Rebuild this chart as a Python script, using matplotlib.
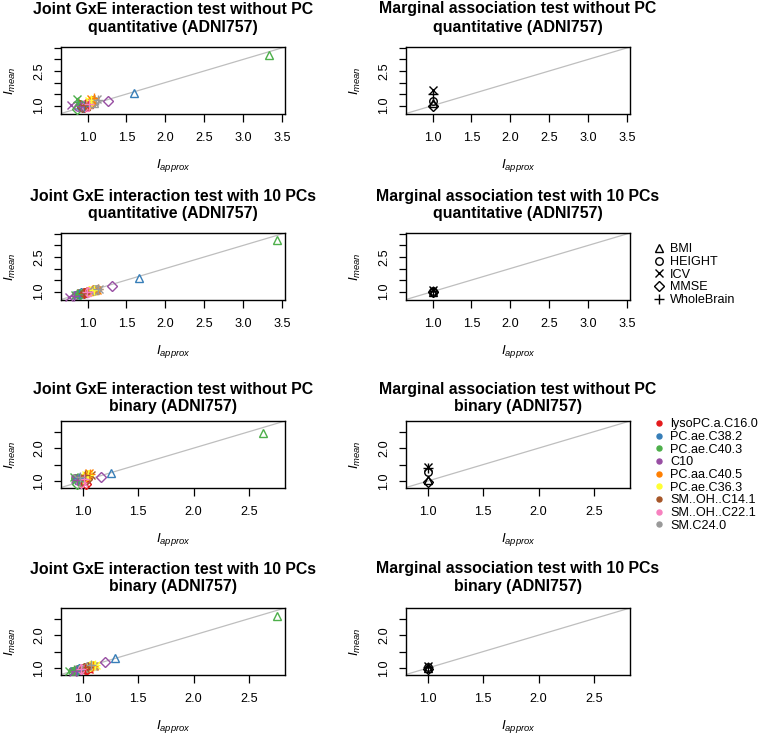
import matplotlib
matplotlib.use('Agg')
import matplotlib.pyplot as plt
from matplotlib.lines import Line2D
from matplotlib.transforms import ScaledTranslation

plt.rcParams['font.family'] = ['Liberation Sans', 'DejaVu Sans']
plt.rcParams['mathtext.fontset'] = 'custom'
plt.rcParams['mathtext.it'] = 'Liberation Sans:italic'
plt.rcParams['mathtext.rm'] = 'Liberation Sans'

# ---------------- data ----------------
phenotypes = ['BMI', 'HEIGHT', 'ICV', 'MMSE', 'WholeBrain']
phen_markers = ['^', 'o', 'x', 'D', '+']
metabolites = ['lysoPC.a.C16.0', 'PC.ae.C38.2', 'PC.ae.C40.3', 'C10', 'PC.aa.C40.5',
               'PC.ae.C36.3', 'SM..OH..C14.1', 'SM..OH..C22.1', 'SM.C24.0']
met_colors = ['#E41A1C', '#377EB8', '#4DAF4A', '#984EA3', '#FF7F00',
              '#FFFF33', '#A65628', '#F781BF', '#999999']

# rows: phenotypes, columns: metabolites
joint_noPC_quant_x = [[1.02, 1.59, 3.33, 0.95, 1.05, 1.00, 0.98, 0.97, 1.08],
                      [0.98, 0.92, 0.90, 0.88, 1.06, 1.03, 0.96, 1.00, 1.10],
                      [0.93, 0.90, 0.86, 0.79, 1.05, 1.02, 0.94, 0.99, 1.12],
                      [0.96, 0.94, 0.86, 1.26, 1.04, 1.01, 0.93, 0.97, 1.06],
                      [1.00, 0.95, 0.88, 0.92, 1.08, 1.04, 0.97, 1.02, 1.14]]
joint_noPC_quant_y = [[1.05, 1.56, 3.20, 0.98, 1.15, 1.10, 1.00, 0.95, 1.12],
                      [1.00, 0.95, 1.05, 0.92, 1.25, 1.20, 0.98, 1.02, 1.18],
                      [1.10, 1.02, 1.30, 1.03, 1.28, 1.22, 1.05, 1.08, 1.30],
                      [0.95, 0.92, 0.87, 1.22, 1.12, 1.08, 0.93, 0.97, 1.10],
                      [1.08, 1.00, 1.15, 1.00, 1.32, 1.26, 1.02, 1.05, 1.25]]

joint_10PC_quant_x = [[1.02, 1.655, 3.43, 0.95, 1.08, 1.03, 0.97, 0.99, 1.10],
                      [0.97, 0.90, 0.88, 0.85, 1.10, 1.05, 0.95, 1.00, 1.12],
                      [0.93, 0.87, 0.84, 0.765, 1.12, 1.06, 0.92, 0.98, 1.15],
                      [0.99, 0.92, 0.90, 1.31, 1.07, 1.02, 0.96, 1.01, 1.08],
                      [0.95, 0.89, 0.86, 0.82, 1.14, 1.08, 0.94, 0.99, 1.13]]
joint_10PC_quant_y = [[1.03, 1.61, 3.23, 0.94, 1.06, 1.02, 0.98, 1.00, 1.08],
                      [0.96, 0.90, 0.90, 0.86, 1.08, 1.04, 0.95, 0.99, 1.10],
                      [0.92, 0.87, 0.86, 0.78, 1.09, 1.04, 0.92, 0.97, 1.13],
                      [0.98, 0.92, 0.91, 1.26, 1.05, 1.01, 0.96, 1.00, 1.07],
                      [0.95, 0.89, 0.88, 0.83, 1.11, 1.06, 0.94, 0.98, 1.12]]

joint_noPC_bin_x = [[1.01, 1.26, 2.63, 0.97, 1.05, 1.04, 0.99, 1.00, 1.03],
                    [1.00, 0.95, 0.93, 0.94, 1.04, 1.06, 0.98, 1.01, 0.96],
                    [1.02, 0.94, 0.92, 0.93, 1.06, 1.03, 1.08, 1.00, 0.95],
                    [1.03, 0.96, 0.95, 1.17, 1.02, 1.00, 1.04, 0.99, 0.97],
                    [0.99, 0.97, 0.96, 0.95, 1.07, 1.05, 1.02, 1.01, 0.98]]
joint_noPC_bin_y = [[1.05, 1.25, 2.47, 1.03, 1.18, 1.15, 1.06, 1.02, 1.10],
                    [1.00, 1.05, 1.10, 1.08, 1.20, 1.22, 1.10, 1.00, 1.06],
                    [0.95, 1.05, 1.12, 1.06, 1.24, 1.18, 1.20, 0.96, 1.08],
                    [0.92, 1.02, 0.90, 1.13, 1.12, 1.10, 1.06, 0.94, 1.04],
                    [1.02, 1.10, 1.00, 1.04, 1.22, 1.20, 1.18, 1.05, 1.12]]

joint_10PC_bin_x = [[1.05, 1.29, 2.75, 0.96, 1.08, 1.06, 1.02, 1.00, 1.10],
                    [1.03, 0.94, 0.90, 0.93, 1.06, 1.09, 1.00, 0.98, 1.07],
                    [1.06, 0.92, 0.88, 0.91, 1.10, 1.12, 1.03, 0.97, 1.09],
                    [1.04, 0.97, 0.95, 1.205, 1.05, 1.07, 1.01, 0.99, 1.04],
                    [1.02, 0.95, 0.92, 0.94, 1.09, 1.11, 1.05, 0.99, 1.08]]
joint_10PC_bin_y = [[1.00, 1.32, 2.59, 0.95, 1.08, 1.07, 1.02, 1.00, 1.10],
                    [0.95, 0.93, 0.91, 0.90, 1.05, 1.08, 0.99, 0.97, 1.06],
                    [0.97, 0.91, 0.92, 0.89, 1.06, 1.10, 1.00, 0.96, 1.07],
                    [0.96, 0.96, 0.94, 1.17, 1.04, 1.06, 1.00, 0.98, 1.03],
                    [0.98, 0.94, 0.93, 0.92, 1.07, 1.09, 1.03, 0.98, 1.08]]

# marginal tests: one value per phenotype
marg_noPC_quant_x = [1.0, 1.0, 1.0, 1.0, 1.0]
marg_noPC_quant_y = [1.10, 1.22, 1.68, 0.98, 1.50]
marg_10PC_quant_x = [1.0, 1.0, 1.0, 1.0, 1.0]
marg_10PC_quant_y = [1.00, 1.03, 1.06, 0.97, 1.04]
marg_noPC_bin_x = [1.0, 1.0, 1.0, 1.0, 1.0]
marg_noPC_bin_y = [1.03, 1.27, 1.42, 0.97, 1.40]
marg_10PC_bin_x = [1.0, 1.0, 1.0, 1.0, 1.0]
marg_10PC_bin_y = [1.00, 1.02, 1.05, 0.97, 1.03]

joint_titles = [('Joint GxE interaction test without PC', 'quantitative (ADNI757)'),
                ('Joint GxE interaction test with 10 PCs', 'quantitative (ADNI757)'),
                ('Joint GxE interaction test without PC', 'binary (ADNI757)'),
                ('Joint GxE interaction test with 10 PCs', 'binary (ADNI757)')]
marg_titles = [('Marginal association test without PC', 'quantitative (ADNI757)'),
               ('Marginal association test with 10 PCs', 'quantitative (ADNI757)'),
               ('Marginal association test without PC', 'binary (ADNI757)'),
               ('Marginal association test with 10 PCs', 'binary (ADNI757)')]
quant_xticks = [1.0, 1.5, 2.0, 2.5, 3.0, 3.5]
quant_yticklabels = ['1.0', '', '', '2.5', '', '']
bin_xticks = [1.0, 1.5, 2.0, 2.5]
bin_yticklabels = ['1.0', '', '2.0', '']

# ---------------- layout ----------------
W, H = 760, 734
DPI = 100
fig = plt.figure(figsize=(W / DPI, H / DPI), dpi=DPI)

col_left = [61, 406]
ax_w = 224
ax_h = 66.5
row_top = [47, 233, 421, 608]
title_line1 = [38, 36.5, 31.5, 39]   # px above box top (centre of line 1)
title_line2 = [19.5, 19.5, 14.5, 21]  # px above box top (centre of line 2)

joint_x = [joint_noPC_quant_x, joint_10PC_quant_x, joint_noPC_bin_x, joint_10PC_bin_x]
joint_y = [joint_noPC_quant_y, joint_10PC_quant_y, joint_noPC_bin_y, joint_10PC_bin_y]
marg_x = [marg_noPC_quant_x, marg_10PC_quant_x, marg_noPC_bin_x, marg_10PC_bin_x]
marg_y = [marg_noPC_quant_y, marg_10PC_quant_y, marg_noPC_bin_y, marg_10PC_bin_y]


def data_lim(rows):
    vals = [v for panel in rows for row in panel for v in row]
    lo, hi = min(vals), max(vals)
    d = 0.04 * (hi - lo)
    return lo - d, hi + d


quant_lim = data_lim([joint_noPC_quant_x, joint_noPC_quant_y, joint_10PC_quant_x, joint_10PC_quant_y])
bin_lim = data_lim([joint_noPC_bin_x, joint_noPC_bin_y, joint_10PC_bin_x, joint_10PC_bin_y])

TICK_FS = 9.1
TITLE_FS = 11.4
MS = {'^': 6.0, 'o': 5.4, 'x': 5.2, 'D': 4.9, '+': 6.8}


def px(v):
    return v / DPI


def style_axes(ax, r):
    quant = r < 2
    lim = quant_lim if quant else bin_lim
    ax.set_xlim(lim)
    ax.set_ylim(lim)
    xt = quant_xticks if quant else bin_xticks
    ax.set_xticks(xt)
    ax.set_xticklabels(['%.1f' % t for t in xt])
    ax.set_yticks(xt)
    ax.set_yticklabels(quant_yticklabels if quant else bin_yticklabels,
                       rotation=90, va='center')
    ax.tick_params(axis='both', direction='out', length=5.4, width=0.9,
                   labelsize=TICK_FS, color='black')
    ax.tick_params(axis='x', pad=8.0)
    ax.tick_params(axis='y', pad=6.0)
    for s in ax.spines.values():
        s.set_linewidth(1.0)
    ax.axline((0, 0), slope=1, color='#BEBEBE', lw=0.9, zorder=1)
    # axis labels
    t = ax.transAxes + ScaledTranslation(0, -px(52), fig.dpi_scale_trans)
    ax.text(0.5, 0, r'$I_{approx}$', transform=t, ha='center', va='center', fontsize=TICK_FS + 0.5)
    t = ax.transAxes + ScaledTranslation(-px(51), 0, fig.dpi_scale_trans)
    ax.text(0, 0.5, r'$I_{mean}$', transform=t, ha='center', va='center',
            rotation=90, fontsize=TICK_FS + 0.5)


for r in range(4):
    for c in range(2):
        l = col_left[c]
        top = row_top[r]
        ax = fig.add_axes([l / W, 1 - (top + ax_h) / H, ax_w / W, ax_h / H])
        style_axes(ax, r)
        if c == 0:
            xs, ys = joint_x[r], joint_y[r]
            for i, mk in enumerate(phen_markers):
                for j, col in enumerate(met_colors):
                    ax.plot(xs[i][j], ys[i][j], linestyle='none', marker=mk, ms=MS[mk],
                            mfc='none', mec=col, mew=1.0, zorder=3, clip_on=False)
            title = joint_titles[r]
        else:
            xs, ys = marg_x[r], marg_y[r]
            for i, mk in enumerate(phen_markers):
                ax.plot(xs[i], ys[i], linestyle='none', marker=mk, ms=MS[mk],
                        mfc='none', mec='black', mew=1.0, zorder=3)
            title = marg_titles[r]
        for line, gap in zip(title, (title_line1[r], title_line2[r])):
            tt = ax.transAxes + ScaledTranslation(0, px(gap), fig.dpi_scale_trans)
            ax.text(0.5, 1, line, transform=tt, ha='center', va='center',
                    fontsize=TITLE_FS, fontweight='bold')

# ---------------- legends ----------------
shape_handles = [Line2D([], [], linestyle='none', marker=mk, ms=MS[mk], mfc='none',
                        mec='black', mew=1.0) for mk in phen_markers]
leg1 = fig.legend(shape_handles, phenotypes, loc='upper left',
                  bbox_to_anchor=(653 / W, 1 - 243.5 / H), frameon=False,
                  fontsize=TICK_FS, handlelength=1.0, handletextpad=0.35,
                  labelspacing=0.05, borderpad=0, borderaxespad=0)
color_handles = [Line2D([], [], linestyle='none', marker='o', ms=3.6, mfc=col,
                        mec=col) for col in met_colors]
leg2 = fig.legend(color_handles, metabolites, loc='upper left',
                  bbox_to_anchor=(653 / W, 1 - 418.5 / H), frameon=False,
                  fontsize=TICK_FS, handlelength=1.0, handletextpad=0.35,
                  labelspacing=0.05, borderpad=0, borderaxespad=0)

fig.savefig('out.png', dpi=DPI)
